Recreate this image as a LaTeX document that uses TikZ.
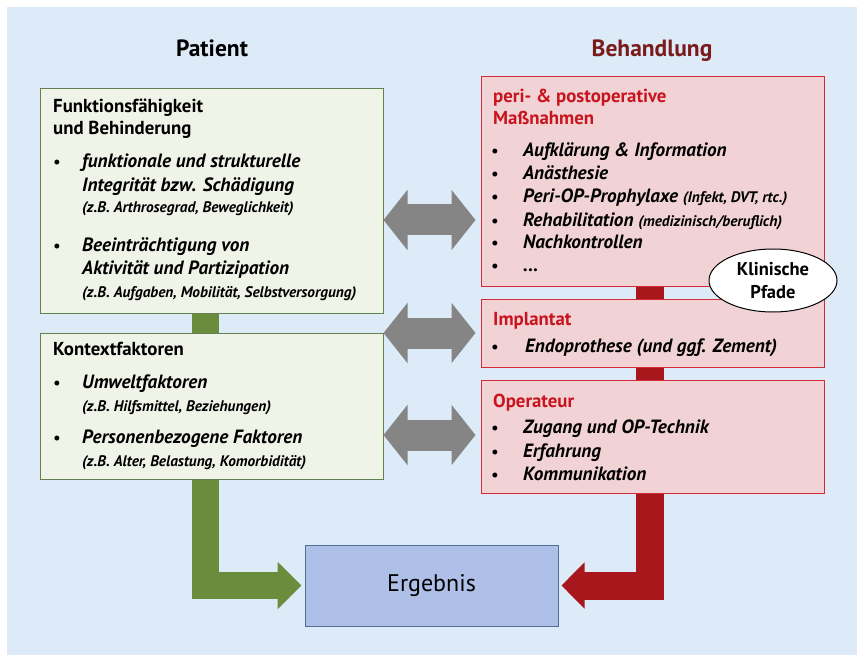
\documentclass[tikz,border=0pt]{standalone}
\usepackage{fontspec}
\setmainfont{PT Sans}
\usetikzlibrary{arrows.meta,shapes.geometric}
\definecolor{bgblue}{HTML}{DDEAF7}
\definecolor{pfill}{HTML}{F0F4E8}
\definecolor{pline}{HTML}{63804F}
\definecolor{bfill}{HTML}{F2D3D5}
\definecolor{bline}{HTML}{D42A35}
\definecolor{headred}{HTML}{C8141E}
\definecolor{titlered}{HTML}{7B1A1A}
\definecolor{arrgreen}{HTML}{6A8C3C}
\definecolor{arrred}{HTML}{A8171C}
\definecolor{arrgray}{HTML}{858585}
\definecolor{efill}{HTML}{AEBFE8}
\definecolor{eline}{HTML}{4F7195}
\tikzset{
  pbox/.style={draw=pline, fill=pfill, line width=1pt, inner sep=0pt},
  bbox/.style={draw=bline, fill=bfill, line width=1pt, inner sep=0pt},
  title/.style={anchor=base, inner sep=0pt, font=\bfseries\fontsize{23.5}{26}\selectfont},
  head/.style={anchor=base west, inner sep=0pt, font=\bfseries\fontsize{18.8}{21}\selectfont},
  rhead/.style={head, text=headred},
  item/.style={anchor=base west, inner sep=0pt, font=\bfseries\itshape\fontsize{19.2}{21}\selectfont},
  note/.style={anchor=base west, inner sep=0pt, font=\bfseries\itshape\fontsize{15.3}{17}\selectfont},
  dot/.style={anchor=base, inner sep=0pt, font=\bfseries\fontsize{16}{18}\selectfont},
  gbar/.style={draw=arrgreen, line width=27pt, line cap=butt, line join=miter},
  rbar/.style={draw=arrred, line width=28pt, line cap=butt, line join=miter},
  twoway/.style={draw=arrgray, line width=31pt, line cap=butt,
    {Triangle[length=24pt, width=59pt]}-{Triangle[length=24pt, width=59pt]}}
}
\begin{document}
\begin{tikzpicture}[yscale=-1, x=1pt, y=1pt]
\useasboundingbox (0,0) rectangle (857,655);
% background
\fill[bgblue] (7,7) rectangle (857,655);
% column titles
\node[title] (patient) at (212,57) {Patient};
\node[title, text=titlered] (behandlung) at (652,57) {Behandlung};
% boxes
\node[pbox, minimum width=343, minimum height=224] (funk) at (211.5,201) {};
\node[pbox, minimum width=343, minimum height=146] (kontext) at (211.5,406) {};
\node[bbox, minimum width=343, minimum height=209] (massn) at (652.5,181.5) {};
\node[bbox, minimum width=343, minimum height=68] (impl) at (652.5,333) {};
\node[bbox, minimum width=343, minimum height=113] (oper) at (652.5,436.5) {};
\node[draw=eline, fill=efill, line width=1pt, minimum width=253, minimum height=81,
  font=\fontsize{24}{26}\selectfont] (erg) at (431.5,585.5) {Ergebnis};
% connectors
\draw[gbar] ([xshift=-6.5]funk.south) -- ([xshift=-6.5]kontext.north);
\draw[gbar, -{Triangle[length=24pt, width=46pt]}, shorten >=3pt]
  ([xshift=-6.5]kontext.south) |- (erg.west);
\draw[rbar] ([xshift=-2.5]massn.south) -- ([xshift=-2.5]impl.north);
\draw[rbar] ([xshift=-2.5]impl.south) -- ([xshift=-2.5]oper.north);
\draw[rbar, -{Triangle[length=23pt, width=45pt]}, shorten >=3pt]
  ([xshift=-2.5]oper.south) |- (erg.east);
\draw[twoway, shorten >=5pt] (funk.east |- 0,220) -- (massn.west |- 0,220);
\draw[twoway, shorten >=5pt] (kontext.east |- 0,333) -- (impl.west |- 0,333);
\draw[twoway, shorten >=5pt] (kontext.east |- 0,435) -- (oper.west |- 0,435);
% Funktionsfaehigkeit
\node[head] (fh1) at (53,113) {Funktionsfähigkeit};
\node[head] (fh2) at (53,135) {und Behinderung};
\node[dot] (fb1) at (57,168) {\textbullet};
\node[item] (fi1) at (82,168) {funktionale und strukturelle};
\node[item] (fi2) at (82,192) {Integrität bzw. Schädigung};
\node[note] (fn1) at (82,213) {(z.B. Arthrosegrad, Beweglichkeit)};
\node[dot] (fb2) at (57,252) {\textbullet};
\node[item] (fi3) at (82,252) {Beeinträchtigung von};
\node[item] (fi4) at (82,274) {Aktivität und Partizipation};
\node[note] (fn2) at (82,298) {(z.B. Aufgaben, Mobilität, Selbstversorgung)};
% Kontextfaktoren
\node[head] (kh) at (53,355) {Kontextfaktoren};
\node[dot] (kb1) at (57,388) {\textbullet};
\node[item] (ki1) at (82,388) {Umweltfaktoren};
\node[note] (kn1) at (82,411) {(z.B. Hilfsmittel, Beziehungen)};
\node[dot] (kb2) at (57,443) {\textbullet};
\node[item] (ki2) at (82,443) {Personenbezogene Faktoren};
\node[note] (kn2) at (82,466) {(z.B. Alter, Belastung, Komorbidität)};
% Massnahmen
\node[rhead] (mh1) at (493,103) {peri- \& postoperative};
\node[rhead] (mh2) at (493,125) {Maßnahmen};
\node[dot] (mb1) at (495,157) {\textbullet};
\node[item] (mi1) at (523,157) {Aufklärung \& Information};
\node[dot] (mb2) at (495,180) {\textbullet};
\node[item] (mi2) at (523,180) {Anästhesie};
\node[dot] (mb3) at (495,203) {\textbullet};
\node[item] (mi3) at (523,203) {Peri-OP-Prophylaxe {\fontsize{15.3}{17}\selectfont(Infekt, DVT, rtc.)}};
\node[dot] (mb4) at (495,227) {\textbullet};
\node[item] (mi4) at (523,227) {Rehabilitation {\fontsize{15.3}{17}\selectfont(medizinisch/beruflich)}};
\node[dot] (mb5) at (495,249) {\textbullet};
\node[item] (mi5) at (523,249) {Nachkontrollen};
\node[dot] (mb6) at (495,272) {\textbullet};
\node[item] (mi6) at (523,272) {...};
% Implantat
\node[rhead] (ih) at (493,325) {Implantat};
\node[dot] (ib1) at (495,352) {\textbullet};
\node[item] (ii1) at (525,352) {Endoprothese (und ggf. Zement)};
% Operateur
\node[rhead] (oh) at (493,407) {Operateur};
\node[dot] (ob1) at (495,433) {\textbullet};
\node[item] (oi1) at (523,433) {Zugang und OP-Technik};
\node[dot] (ob2) at (495,457) {\textbullet};
\node[item] (oi2) at (523,457) {Erfahrung};
\node[dot] (ob3) at (495,480) {\textbullet};
\node[item] (oi3) at (523,480) {Kommunikation};
% Klinische Pfade
\node[draw, ellipse, fill=white, line width=1pt, minimum width=128, minimum height=63,
  inner sep=0pt, align=center, font=\bfseries\fontsize{18.5}{23}\selectfont] (pfade) at (773,280.5) {Klinische\\Pfade};
\end{tikzpicture}
\end{document}
